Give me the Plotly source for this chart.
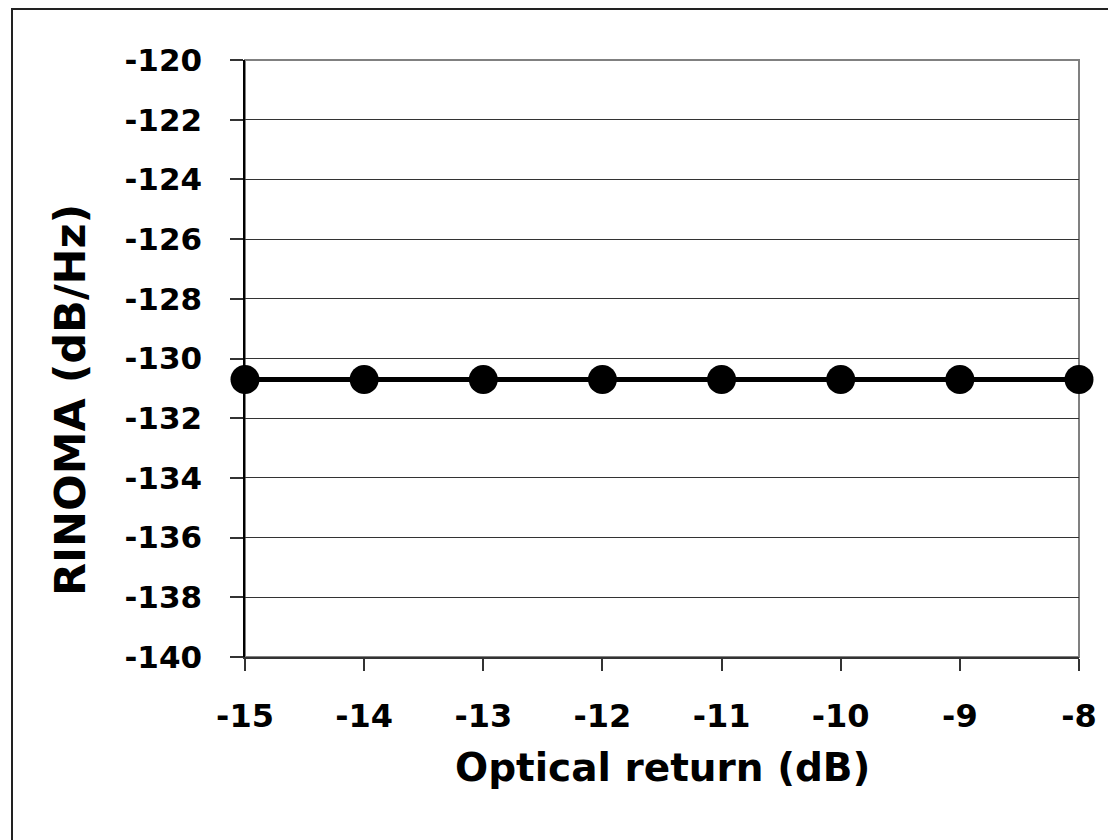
import plotly.graph_objects as go

optical_return_db = [-15, -14, -13, -12, -11, -10, -9, -8]
rinoma_db_hz = [-130.7, -130.7, -130.7, -130.7, -130.7, -130.7, -130.7, -130.7]
y_ticks = [-140, -138, -136, -134, -132, -130, -128, -126, -124, -122, -120]
x_tick_labels = [str(v) for v in optical_return_db]
y_tick_labels = [str(v) for v in y_ticks]

# page has an 8px body margin; figure coords = page coords - 8
W, H = 1108, 832
L, R, T, B = 237, 37, 52, 183
pw, ph = W - L - R, H - T - B

FONT = "DejaVu Sans"

fig = go.Figure()
fig.add_trace(go.Scatter(
    x=optical_return_db, y=rinoma_db_hz,
    mode="lines+markers",
    line=dict(color="black", width=5),
    marker=dict(color="black", size=29),
    cliponaxis=False,
    showlegend=False,
))

def px_x(p):
    return (p - L) / pw

def px_y(p):
    return (H - B - p) / ph

shapes = [
    dict(type="rect", xref="paper", yref="paper",
         x0=px_x(4), x1=px_x(1125), y0=px_y(850), y1=px_y(1),
         line=dict(color="#222", width=2), layer="below"),
    dict(type="rect", xref="paper", yref="paper",
         x0=0, x1=1, y0=0, y1=1,
         line=dict(color="#808080", width=2), layer="below"),
]

annotations = [
    dict(text="Optical return (dB)", xref="paper", yref="paper",
         x=0.5, y=px_y(759), xanchor="center", yanchor="middle",
         showarrow=False,
         font=dict(family=FONT, size=39, color="black", weight="bold")),
    dict(text="RINOMA (dB/Hz)", xref="paper", yref="paper",
         x=px_x(62), y=px_y(392), xanchor="center", yanchor="middle",
         textangle=-90, showarrow=False,
         font=dict(family=FONT, size=43, color="black", weight="bold")),
]

fig.update_layout(
    width=W, height=H,
    margin=dict(l=L, r=R, t=T, b=B, pad=0),
    paper_bgcolor="white", plot_bgcolor="white",
    shapes=shapes, annotations=annotations,
    xaxis=dict(
        range=[-15, -8], tickvals=optical_return_db, ticktext=x_tick_labels,
        ticks="outside", ticklen=12, tickcolor="#333", tickwidth=1.5,
        showgrid=False, zeroline=False,
        showline=True, linecolor="#333", linewidth=2,
        tickfont=dict(family=FONT, size=32, color="black", weight="bold"),
        ticklabelstandoff=18,
    ),
    yaxis=dict(
        range=[-140, -120], tickvals=y_ticks, ticktext=y_tick_labels,
        ticks="outside", ticklen=13, tickcolor="#333", tickwidth=1.5,
        showgrid=True, gridcolor="#333", gridwidth=1,
        zeroline=False,
        showline=True, linecolor="black", linewidth=1.5,
        tickfont=dict(family=FONT, size=31, color="black", weight="bold"),
        ticklabelstandoff=22,
    ),
)

fig.write_html("out.html")
